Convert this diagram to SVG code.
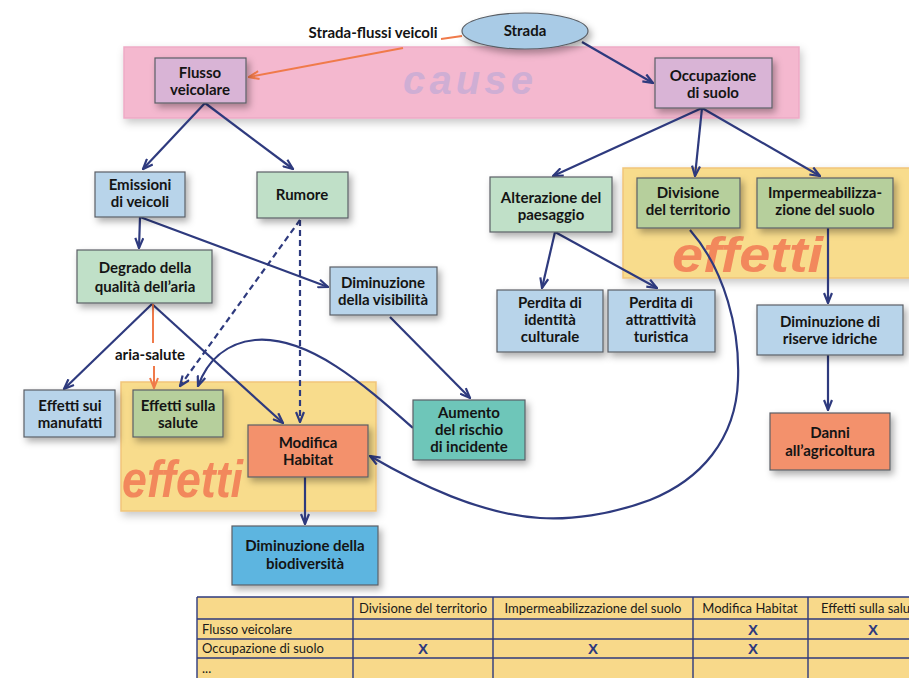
<svg xmlns="http://www.w3.org/2000/svg" width="909" height="678" viewBox="0 0 909 678">
  <style>
    .node text, .lbl { font-family: Lato, "Liberation Sans", sans-serif; font-weight: 700; font-size: 15px; fill: #141414; text-anchor: middle; }
    .box { stroke: #5a5f66; stroke-width: 1.2; }
    .blue { fill: #b8d4ea; }
    .mint { fill: #c0e0c8; }
    .olive { fill: #b6cf9c; }
    .lilac { fill: #d9b4d6; }
    .salmon { fill: #f3916c; }
    .teal { fill: #6ec6b9; }
    .sky { fill: #5db5e0; }
    .band-pink { fill: #f4b8cf; stroke: #eeaac6; stroke-width: 1.5; }
    .band-yellow { fill: #f8dc8c; stroke: #f1c57a; stroke-width: 1.5; }
    .big { font-family: "Liberation Sans", Arial, sans-serif; font-weight: 700; font-style: italic; }
    .edge { fill: none; stroke: #2e3a7e; stroke-width: 2.2; }
    .dash { stroke-dasharray: 6 4; }
    .orange { fill: none; stroke: #f07a4a; stroke-width: 2; }
    .tbl { font-family: Lato, "Liberation Sans", sans-serif; font-size: 13px; fill: #1a1a1a; }
    .mark { font-family: "Liberation Sans", Arial, sans-serif; font-weight: 700; font-size: 15px; fill: #2e3a7e; text-anchor: middle; }
    .grid { stroke: #2e3a7e; stroke-width: 1.4; fill: none; }
  </style>
  <defs>
    <filter id="shadow" x="-20%" y="-20%" width="150%" height="160%">
      <feDropShadow dx="3" dy="4" stdDeviation="3.5" flood-color="#000" flood-opacity="0.32"/>
    </filter>
    <filter id="soft" x="-5%" y="-10%" width="115%" height="130%">
      <feDropShadow dx="2" dy="4" stdDeviation="4" flood-color="#000" flood-opacity="0.22"/>
    </filter>
    <marker id="arrow" viewBox="0 0 12 10" refX="11" refY="5" markerWidth="12" markerHeight="10" markerUnits="userSpaceOnUse" orient="auto">
      <path d="M1,1 L11,5 L1,9" fill="none" stroke="#2e3a7e" stroke-width="2.2"/>
    </marker>
    <marker id="arrow-o" viewBox="0 0 12 10" refX="11" refY="5" markerWidth="12" markerHeight="10" markerUnits="userSpaceOnUse" orient="auto">
      <path d="M1,1 L11,5 L1,9" fill="none" stroke="#f07a4a" stroke-width="2"/>
    </marker>
    <clipPath id="page"><rect x="0" y="0" width="909" height="678"/></clipPath>
  </defs>

  <rect width="909" height="678" fill="#ffffff"/>

  <!-- background bands -->
  <g id="band-cause">
    <rect class="band-pink" x="124" y="47" width="675" height="71" filter="url(#soft)"/>
    <text class="big" x="403" y="94" font-size="40" fill="#cfaed4" textLength="130" lengthAdjust="spacing">cause</text>
  </g>
  <g id="band-effetti-right">
    <rect class="band-yellow" x="623" y="168" width="300" height="110" filter="url(#soft)"/>
    <text class="big" x="672" y="272" font-size="50" fill="#f2885c" textLength="151" lengthAdjust="spacingAndGlyphs">effetti</text>
  </g>
  <g id="band-effetti-left">
    <rect class="band-yellow" x="121" y="382" width="255" height="129" filter="url(#soft)"/>
    <text class="big" x="122" y="497" font-size="52" fill="#f2885c" textLength="121" lengthAdjust="spacingAndGlyphs">effetti</text>
  </g>

  <!-- connectors -->
  <g id="connectors">
    <line class="orange" x1="462" y1="36" x2="441" y2="39"/>
    <line class="orange" x1="403" y1="48" x2="249" y2="77" marker-end="url(#arrow-o)"/>
    <line class="edge" x1="582" y1="42" x2="653" y2="83" marker-end="url(#arrow)"/>
    <line class="edge" x1="205" y1="103" x2="143" y2="169" marker-end="url(#arrow)"/>
    <line class="edge" x1="205" y1="103" x2="293" y2="169" marker-end="url(#arrow)"/>
    <line class="edge" x1="702" y1="108" x2="553" y2="176" marker-end="url(#arrow)"/>
    <line class="edge" x1="702" y1="108" x2="695" y2="176" marker-end="url(#arrow)"/>
    <line class="edge" x1="702" y1="108" x2="820" y2="176" marker-end="url(#arrow)"/>
    <line class="edge" x1="140" y1="217" x2="139" y2="248" marker-end="url(#arrow)"/>
    <line class="edge" x1="140" y1="217" x2="328" y2="287" marker-end="url(#arrow)"/>
    <line class="edge dash" x1="300" y1="220" x2="180" y2="386" marker-end="url(#arrow)"/>
    <line class="edge dash" x1="300" y1="220" x2="300" y2="422" marker-end="url(#arrow)"/>
    <line class="edge" x1="152" y1="304" x2="64" y2="389" marker-end="url(#arrow)"/>
    <line class="edge" x1="152" y1="304" x2="283" y2="423" marker-end="url(#arrow)"/>
    <line class="orange" x1="153" y1="304" x2="153" y2="343"/>
    <line class="orange" x1="154" y1="366" x2="154" y2="388" marker-end="url(#arrow-o)"/>
    <text class="lbl" x="150" y="360">aria-salute</text>
    <line class="edge" x1="390" y1="317" x2="470" y2="398" marker-end="url(#arrow)"/>
    <path class="edge" d="M413,428 C370,390 310,335 255,340 C225,343 207,362 198,386" marker-end="url(#arrow)"/>
    <line class="edge" x1="305" y1="477" x2="305" y2="524" marker-end="url(#arrow)"/>
    <line class="edge" x1="555" y1="232" x2="542" y2="288" marker-end="url(#arrow)"/>
    <line class="edge" x1="555" y1="232" x2="657" y2="288" marker-end="url(#arrow)"/>
    <line class="edge" x1="828" y1="228" x2="828" y2="303" marker-end="url(#arrow)"/>
    <line class="edge" x1="828" y1="355" x2="828" y2="410" marker-end="url(#arrow)"/>
    <path class="edge" d="M690,230 C725,270 740,330 738,380 C736,440 700,480 650,500 C610,515 570,520 540,518 C480,514 420,485 370,456" marker-end="url(#arrow)"/>
  </g>

  <!-- label on the Strada link, drawn over the line gap -->
  <text class="lbl" x="373" y="38">Strada-flussi veicoli</text>

  <!-- nodes -->
  <g id="strada" class="node">
    <ellipse cx="525" cy="31" rx="63" ry="18" fill="#a9cbe6" stroke="#5a5f66" stroke-width="1.2" filter="url(#shadow)"/>
    <text x="525" y="36">Strada</text>
  </g>
  <g id="flusso" class="node">
    <rect class="box lilac" x="155" y="58" width="91" height="45" filter="url(#shadow)"/>
    <text x="200" y="78">Flusso</text><text x="200" y="95">veicolare</text>
  </g>
  <g id="occupazione" class="node">
    <rect class="box lilac" x="655" y="58" width="117" height="50" filter="url(#shadow)"/>
    <text x="713" y="81">Occupazione</text><text x="713" y="98">di suolo</text>
  </g>
  <g id="emissioni" class="node">
    <rect class="box blue" x="95" y="172" width="90" height="45" filter="url(#shadow)"/>
    <text x="140" y="190">Emissioni</text><text x="140" y="207">di veicoli</text>
  </g>
  <g id="rumore" class="node">
    <rect class="box mint" x="257" y="172" width="91" height="46" filter="url(#shadow)"/>
    <text x="302" y="200">Rumore</text>
  </g>
  <g id="degrado" class="node">
    <rect class="box mint" x="77" y="250" width="135" height="53" filter="url(#shadow)"/>
    <text x="145" y="273">Degrado della</text><text x="145" y="292">qualità dell’aria</text>
  </g>
  <g id="visibilita" class="node">
    <rect class="box blue" x="330" y="267" width="107" height="48" filter="url(#shadow)"/>
    <text x="383" y="288">Diminuzione</text><text x="383" y="305">della visibilità</text>
  </g>
  <g id="alterazione" class="node">
    <rect class="box mint" x="490" y="177" width="122" height="55" filter="url(#shadow)"/>
    <text x="551" y="203">Alterazione del</text><text x="551" y="220">paesaggio</text>
  </g>
  <g id="divisione" class="node">
    <rect class="box olive" x="637" y="178" width="103" height="50" filter="url(#shadow)"/>
    <text x="688" y="198">Divisione</text><text x="688" y="215">del territorio</text>
  </g>
  <g id="impermeabilizzazione" class="node">
    <rect class="box olive" x="757" y="178" width="136" height="50" filter="url(#shadow)"/>
    <text x="825" y="198">Impermeabilizza-</text><text x="825" y="215">zione del suolo</text>
  </g>
  <g id="identita" class="node">
    <rect class="box blue" x="497" y="290" width="106" height="62" filter="url(#shadow)"/>
    <text x="550" y="308">Perdita di</text><text x="550" y="325">identità</text><text x="550" y="342">culturale</text>
  </g>
  <g id="attrattivita" class="node">
    <rect class="box blue" x="608" y="290" width="107" height="62" filter="url(#shadow)"/>
    <text x="661" y="308">Perdita di</text><text x="661" y="325">attrattività</text><text x="661" y="342">turistica</text>
  </g>
  <g id="riserve" class="node">
    <rect class="box blue" x="757" y="305" width="146" height="50" filter="url(#shadow)"/>
    <text x="830" y="327">Diminuzione di</text><text x="830" y="344">riserve idriche</text>
  </g>
  <g id="danni" class="node">
    <rect class="box salmon" x="770" y="413" width="120" height="57" filter="url(#shadow)"/>
    <text x="830" y="438">Danni</text><text x="830" y="456">all’agricoltura</text>
  </g>
  <g id="manufatti" class="node">
    <rect class="box blue" x="24" y="390" width="91" height="47" filter="url(#shadow)"/>
    <text x="70" y="411">Effetti sui</text><text x="70" y="428">manufatti</text>
  </g>
  <g id="salute" class="node">
    <rect class="box olive" x="133" y="390" width="90" height="47" filter="url(#shadow)"/>
    <text x="178" y="411">Effetti sulla</text><text x="178" y="428">salute</text>
  </g>
  <g id="habitat" class="node">
    <rect class="box salmon" x="248" y="425" width="120" height="52" filter="url(#shadow)"/>
    <text x="308" y="448">Modifica</text><text x="308" y="465">Habitat</text>
  </g>
  <g id="incidente" class="node">
    <rect class="box teal" x="413" y="400" width="112" height="60" filter="url(#shadow)"/>
    <text x="469" y="418">Aumento</text><text x="469" y="435">del rischio</text><text x="469" y="452">di incidente</text>
  </g>
  <g id="biodiversita" class="node">
    <rect class="box sky" x="232" y="526" width="146" height="59" filter="url(#shadow)"/>
    <text x="305" y="551">Diminuzione della</text><text x="305" y="569">biodiversità</text>
  </g>

  <!-- cross-reference table, running on past the right edge -->
  <g id="table" clip-path="url(#page)">
    <rect x="197" y="597" width="760" height="90" fill="#f8d98a"/>
    <path class="grid" d="M197,597 H960 M197,619 H960 M197,639 H960 M197,658 H960 M197,597 V680 M353,597 V680 M493,597 V680 M693,597 V680 M808,597 V680"/>
    <g class="tbl">
      <text x="423" y="613" text-anchor="middle">Divisione del territorio</text>
      <text x="593" y="613" text-anchor="middle">Impermeabilizzazione del suolo</text>
      <text x="750" y="613" text-anchor="middle">Modifica Habitat</text>
      <text x="821" y="613">Effetti sulla salu</text>
      <text x="202" y="634">Flusso veicolare</text>
      <text x="202" y="653">Occupazione di suolo</text>
      <text x="202" y="673">...</text>
    </g>
    <text class="mark" x="753" y="635">X</text>
    <text class="mark" x="873" y="635">X</text>
    <text class="mark" x="423" y="654">X</text>
    <text class="mark" x="593" y="654">X</text>
    <text class="mark" x="753" y="654">X</text>
  </g>
</svg>
